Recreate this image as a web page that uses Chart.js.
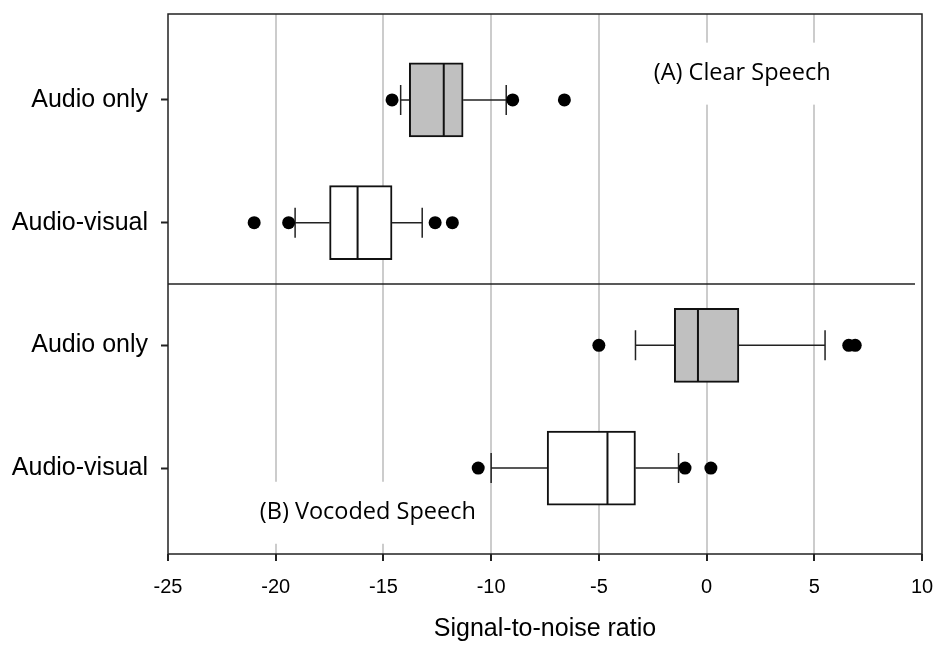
<!DOCTYPE html>
<html>
<head>
<meta charset="utf-8">
<title>Signal-to-noise ratio</title>
<script src="https://cdn.jsdelivr.net/npm/chart.js@4.4.1/dist/chart.umd.min.js"></script>
<style>
  html, body { margin: 0; padding: 0; background: #fff; }
  #wrap { width: 936px; height: 646px; }
</style>
</head>
<body>
<div id="wrap"><canvas id="snrChart"></canvas></div>
<script>
// rows, top to bottom: clear speech (A) then vocoded speech (B)
const rowLabels = ['Audio only', 'Audio-visual', 'Audio only', 'Audio-visual'];
const rowPos = [1, 2, 3, 4];

// box plot summaries (dB SNR)
const whiskerLow  = [-14.2, -19.1, -3.3, -10.0];
const q1          = [-13.8, -17.5, -1.5, -7.4];
const median      = [-12.2, -16.2, -0.4, -4.6];
const q3          = [-11.3, -14.6,  1.5, -3.3];
const whiskerHigh = [-9.3, -13.2,  5.5, -1.3];
const outliers = [
  [-14.6, -9.0, -6.6],
  [-21.0, -19.4, -12.6, -11.8],
  [-5.0, 6.6, 6.9],
  [-10.6, -1.0, 0.2]
];

const xTicks = [-25, -20, -15, -10, -5, 0, 5, 10];

const boxFill = ['#c0c0c0', '#ffffff', '#c0c0c0', '#ffffff'];
const AXIS_FONT = 'Arial, "Liberation Sans", sans-serif';

const outlierPoints = [];
outliers.forEach((vals, i) => vals.forEach(v => outlierPoints.push({ x: v, y: rowPos[i] })));

const captions = [
  { text: '(A) Clear Speech', x: -2.45, y: 0.786 },
  { text: '(B) Vocoded Speech', x: -20.74, y: 4.364 }
];

// whiskers, caps, medians, panel divider and the frame
const boxExtras = {
  id: 'boxExtras',
  beforeDatasetsDraw(chart) {
    const { ctx, chartArea, scales: { x, y } } = chart;
    ctx.save();

    ctx.strokeStyle = '#222';
    ctx.lineWidth = 1.5;
    const sy = y.getPixelForValue(2.5);
    ctx.beginPath();
    ctx.moveTo(chartArea.left, sy);
    ctx.lineTo(chartArea.right - 7, sy);
    ctx.stroke();

    ctx.font = '23.5px "Open Sans", sans-serif';
    ctx.textBaseline = 'middle';
    captions.forEach(c => {
      const px = x.getPixelForValue(c.x);
      const py = y.getPixelForValue(c.y);
      const w = ctx.measureText(c.text).width;
      ctx.fillStyle = '#fff';
      ctx.fillRect(px - 8, py - 31, w + 16, 62);
      ctx.fillStyle = '#000';
      ctx.fillText(c.text, px, py);
    });

    rowPos.forEach((r, i) => {
      const py = y.getPixelForValue(r);
      const lo = x.getPixelForValue(whiskerLow[i]);
      const hi = x.getPixelForValue(whiskerHigh[i]);
      ctx.beginPath();
      ctx.moveTo(lo, py); ctx.lineTo(x.getPixelForValue(q1[i]), py);
      ctx.moveTo(x.getPixelForValue(q3[i]), py); ctx.lineTo(hi, py);
      ctx.moveTo(lo, py - 15); ctx.lineTo(lo, py + 15);
      ctx.moveTo(hi, py - 15); ctx.lineTo(hi, py + 15);
      ctx.stroke();
    });
    ctx.restore();
  },
  afterDatasetsDraw(chart) {
    const { ctx, scales: { x, y } } = chart;
    ctx.save();
    ctx.strokeStyle = '#111';
    ctx.lineWidth = 2;
    rowPos.forEach((r, i) => {
      const py = y.getPixelForValue(r);
      const mx = x.getPixelForValue(median[i]);
      ctx.beginPath();
      ctx.moveTo(mx, py - 36);
      ctx.lineTo(mx, py + 36);
      ctx.stroke();
    });
    ctx.restore();
  },
  afterDraw(chart) {
    const { ctx, chartArea: a } = chart;
    ctx.save();
    ctx.strokeStyle = '#222';
    ctx.lineWidth = 1.5;
    ctx.strokeRect(a.left, a.top, a.right - a.left, a.bottom - a.top);
    ctx.restore();
  }
};

new Chart(document.getElementById('snrChart'), {
  type: 'bar',
  data: {
    datasets: [{
      type: 'bar',
      indexAxis: 'y',
      data: rowPos.map((r, i) => ({ x: [q1[i], q3[i]], y: r })),
      backgroundColor: boxFill,
      borderColor: '#111',
      borderWidth: 2,
      borderSkipped: false,
      barThickness: 74
    }, {
      type: 'scatter',
      data: outlierPoints,
      pointRadius: 6.5,
      pointBackgroundColor: '#000',
      pointBorderWidth: 0
    }]
  },
  options: {
    responsive: true,
    maintainAspectRatio: false,
    animation: false,
    layout: { padding: { top: 14, right: 14, left: 0, bottom: 0 } },
    plugins: {
      legend: { display: false },
      tooltip: { enabled: false }
    },
    scales: {
      x: {
        type: 'linear',
        min: -25,
        max: 10,
        offset: false,
        afterBuildTicks: s => { s.ticks = xTicks.map(v => ({ value: v })); },
        afterFit: s => { s.height = 92; s.paddingLeft = 0; s.paddingRight = 0; },
        border: { display: false },
        grid: {
          offset: false,
          color: c => (c.tick && (c.tick.value === -25 || c.tick.value === 10)) ? 'rgba(0,0,0,0)' : '#cccccc',
          lineWidth: 2,
          tickColor: '#222',
          tickWidth: 2,
          tickLength: 7
        },
        ticks: {
          color: '#000',
          padding: 14,
          maxRotation: 0,
          font: { family: AXIS_FONT, size: 20 }
        },
        title: {
          display: true,
          text: 'Signal-to-noise ratio',
          color: '#000',
          padding: { top: 0, bottom: 2 },
          font: { family: AXIS_FONT, size: 25 }
        }
      },
      y: {
        type: 'linear',
        reverse: true,
        min: 0.3,
        max: 4.7,
        offset: false,
        afterBuildTicks: s => { s.ticks = rowPos.map(v => ({ value: v })); },
        afterFit: s => { s.width = 168; s.paddingTop = 0; s.paddingBottom = 0; },
        border: { display: false },
        grid: {
          offset: false,
          drawOnChartArea: false,
          tickColor: '#222',
          tickWidth: 2,
          tickLength: 7
        },
        ticks: {
          color: '#000',
          padding: 13,
          font: { family: AXIS_FONT, size: 25 },
          callback: v => rowLabels[rowPos.indexOf(v)]
        }
      }
    }
  },
  plugins: [boxExtras]
});
</script>
</body>
</html>
